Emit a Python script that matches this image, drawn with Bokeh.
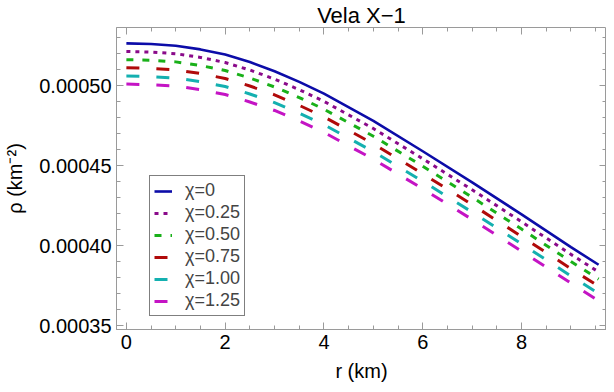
from bokeh.plotting import figure
from bokeh.models import (LinearAxis, SingleIntervalTicker, PrintfTickFormatter,
                          Legend, LegendItem, Range1d)
from bokeh.embed import file_html
from bokeh.resources import INLINE

r = [0, 0.5, 1, 1.5, 2, 2.5, 3, 3.5, 4, 5, 6, 7, 8, 9, 9.56]
rho_chi_0 = [526.5e-6, 526.1e-6, 525.0e-6, 522.7e-6, 519.5e-6, 514.8e-6, 509.0e-6, 502.4e-6, 495.0e-6, 478.0e-6, 459.0e-6, 439.5e-6, 419.5e-6, 399.0e-6, 388.0e-6]
rho_chi_025 = [521.4e-6, 521.0e-6, 520.0e-6, 517.7e-6, 514.5e-6, 509.8e-6, 504.1e-6, 497.5e-6, 490.2e-6, 473.2e-6, 454.3e-6, 434.9e-6, 414.9e-6, 394.5e-6, 383.5e-6]
rho_chi_050 = [516.3e-6, 515.9e-6, 514.9e-6, 512.6e-6, 509.5e-6, 504.8e-6, 499.2e-6, 492.6e-6, 485.3e-6, 468.4e-6, 449.6e-6, 430.2e-6, 410.3e-6, 390.0e-6, 379.0e-6]
rho_chi_075 = [511.2e-6, 510.8e-6, 509.9e-6, 507.6e-6, 504.5e-6, 499.8e-6, 494.3e-6, 487.7e-6, 480.5e-6, 463.6e-6, 444.9e-6, 425.6e-6, 405.7e-6, 385.5e-6, 374.5e-6]
rho_chi_100 = [506.1e-6, 505.7e-6, 504.8e-6, 502.5e-6, 499.5e-6, 494.8e-6, 489.4e-6, 482.8e-6, 475.6e-6, 458.8e-6, 440.2e-6, 420.9e-6, 401.1e-6, 381.0e-6, 370.0e-6]
rho_chi_125 = [501.0e-6, 500.6e-6, 499.8e-6, 497.5e-6, 494.5e-6, 489.8e-6, 484.5e-6, 477.9e-6, 470.8e-6, 454.0e-6, 435.5e-6, 416.3e-6, 396.5e-6, 376.5e-6, 365.5e-6]

labels = ["χ=0", "χ=0.25", "χ=0.50", "χ=0.75", "χ=1.00", "χ=1.25"]
series = [rho_chi_0, rho_chi_025, rho_chi_050, rho_chi_075, rho_chi_100, rho_chi_125]
colors = ["#0c0ca8", "#8a0a8a", "#19b019", "#b00a0a", "#14b0b0", "#c414c4"]
dashes = ["solid", "4 5", "7 9", "13 17", "13 17", "13 17"]
widths = [2.6, 3, 3, 3, 3, 3]

FONT = "Liberation Sans"
GRAY = "#9a9a9a"

p = figure(width=606, height=384, output_backend="svg", toolbar_location=None,
           x_range=Range1d(-0.2, 9.72), y_range=Range1d(0.0003475, 0.0005364),
           min_border_left=116, min_border_right=0, min_border_top=24, min_border_bottom=53,
           background_fill_color="white", border_fill_color="white")

p.title.text = "Vela X−1"
p.title.align = "center"
p.title.text_font = FONT
p.title.text_font_size = "22px"
p.title.text_font_style = "normal"
p.title.text_color = "black"
p.title.standoff = 0

p.grid.visible = False
p.outline_line_color = GRAY
p.outline_line_width = 1

xt = SingleIntervalTicker(interval=2, num_minor_ticks=4)
yt = SingleIntervalTicker(interval=0.00005, num_minor_ticks=5)
p.xaxis.ticker = xt
p.yaxis.ticker = yt
p.yaxis.formatter = PrintfTickFormatter(format="%.5f")
p.xaxis.axis_label = "r (km)"
p.yaxis.axis_label = "ρ (km⁻²)"

for ax in [p.xaxis[0], p.yaxis[0]]:
    ax.axis_line_color = GRAY
    ax.major_tick_line_color = GRAY
    ax.minor_tick_line_color = GRAY
    ax.major_tick_in = 7
    ax.major_tick_out = 0
    ax.minor_tick_in = 4
    ax.minor_tick_out = 0
    ax.major_label_text_font = FONT
    ax.major_label_text_font_size = "20px"
    ax.major_label_text_color = "black"
    ax.axis_label_text_font = FONT
    ax.axis_label_text_font_size = "20px"
    ax.axis_label_text_font_style = "normal"
    ax.axis_label_text_color = "black"
    ax.major_label_standoff = 5

p.yaxis.axis_label_standoff = 10
p.xaxis.axis_label_standoff = 8

for loc, t in [("above", xt), ("right", yt)]:
    ax = LinearAxis(ticker=t, major_label_text_font_size="0px", major_label_text_color=None,
                    major_label_standoff=0,
                    axis_line_color=None, major_tick_line_color=GRAY, minor_tick_line_color=GRAY,
                    major_tick_in=7, major_tick_out=0, minor_tick_in=4, minor_tick_out=0)
    p.add_layout(ax, loc)

items = []
for lab, ys, c, d, w in zip(labels, series, colors, dashes, widths):
    rr = p.line(r, ys, line_color=c, line_width=w, line_dash=d, line_cap="butt")
    items.append(LegendItem(label=lab, renderers=[rr]))

legend = Legend(items=items, location=(33, 13), border_line_color="black", border_line_width=1,
                background_fill_color="white", background_fill_alpha=1,
                label_text_font=FONT, label_text_font_size="18px", label_standoff=13,
                glyph_width=18, glyph_height=20, label_height=20, spacing=1, padding=4, margin=0)
p.add_layout(legend, "center")

open("out.html", "w").write(file_html(p, INLINE))
